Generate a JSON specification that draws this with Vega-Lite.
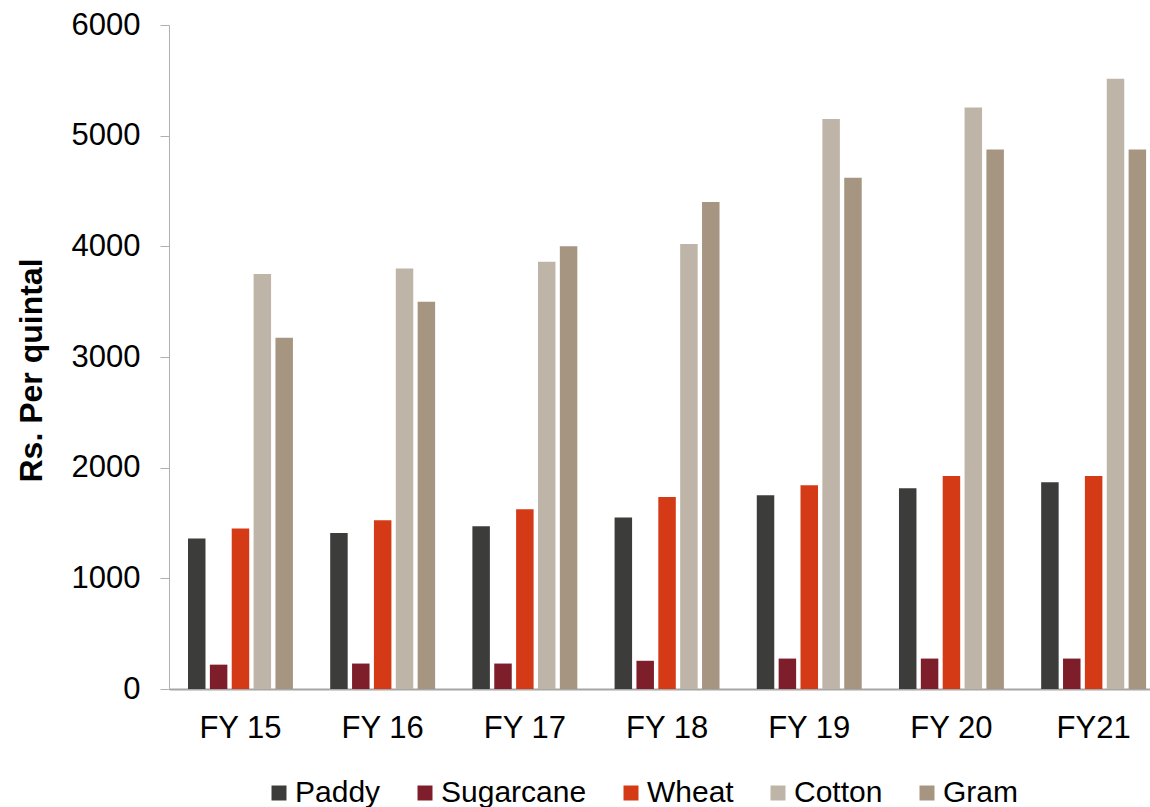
{
  "$schema": "https://vega.github.io/schema/vega-lite/v6.json",
  "autosize": {"type": "none"},
  "padding": {"left": 169, "top": 25, "right": 0, "bottom": 118},
  "width": 981,
  "height": 664,
  "background": "white",
  "config": {
    "view": {"stroke": null},
    "font": "Liberation Sans",
    "axis": {"grid": false, "labelFont": "Liberation Sans", "titleFont": "Liberation Sans", "labelColor": "#000000", "titleColor": "#000000"},
    "legend": {"labelFont": "Liberation Sans"}
  },
  "data": {
    "values": [
      {"year": "FY 15", "crop": "Paddy", "msp": 1360},
      {"year": "FY 15", "crop": "Sugarcane", "msp": 220},
      {"year": "FY 15", "crop": "Wheat", "msp": 1450},
      {"year": "FY 15", "crop": "Cotton", "msp": 3750},
      {"year": "FY 15", "crop": "Gram", "msp": 3175},
      {"year": "FY 16", "crop": "Paddy", "msp": 1410},
      {"year": "FY 16", "crop": "Sugarcane", "msp": 230},
      {"year": "FY 16", "crop": "Wheat", "msp": 1525},
      {"year": "FY 16", "crop": "Cotton", "msp": 3800},
      {"year": "FY 16", "crop": "Gram", "msp": 3500},
      {"year": "FY 17", "crop": "Paddy", "msp": 1470},
      {"year": "FY 17", "crop": "Sugarcane", "msp": 230},
      {"year": "FY 17", "crop": "Wheat", "msp": 1625},
      {"year": "FY 17", "crop": "Cotton", "msp": 3860},
      {"year": "FY 17", "crop": "Gram", "msp": 4000},
      {"year": "FY 18", "crop": "Paddy", "msp": 1550},
      {"year": "FY 18", "crop": "Sugarcane", "msp": 255},
      {"year": "FY 18", "crop": "Wheat", "msp": 1735},
      {"year": "FY 18", "crop": "Cotton", "msp": 4020},
      {"year": "FY 18", "crop": "Gram", "msp": 4400},
      {"year": "FY 19", "crop": "Paddy", "msp": 1750},
      {"year": "FY 19", "crop": "Sugarcane", "msp": 275},
      {"year": "FY 19", "crop": "Wheat", "msp": 1840},
      {"year": "FY 19", "crop": "Cotton", "msp": 5150},
      {"year": "FY 19", "crop": "Gram", "msp": 4620},
      {"year": "FY 20", "crop": "Paddy", "msp": 1815},
      {"year": "FY 20", "crop": "Sugarcane", "msp": 275},
      {"year": "FY 20", "crop": "Wheat", "msp": 1925},
      {"year": "FY 20", "crop": "Cotton", "msp": 5255},
      {"year": "FY 20", "crop": "Gram", "msp": 4875},
      {"year": "FY21", "crop": "Paddy", "msp": 1868},
      {"year": "FY21", "crop": "Sugarcane", "msp": 275},
      {"year": "FY21", "crop": "Wheat", "msp": 1925},
      {"year": "FY21", "crop": "Cotton", "msp": 5515},
      {"year": "FY21", "crop": "Gram", "msp": 4875}
    ]
  },
  "mark": {"type": "bar"},
  "encoding": {
    "x": {
      "field": "year",
      "type": "nominal",
      "sort": null,
      "scale": {"paddingInner": 0.262, "paddingOuter": 0.0805, "align": 0.83},
      "axis": {
        "title": null,
        "labelAngle": 0,
        "labelFontSize": 31,
        "labelPadding": 24,
        "ticks": false,
        "tickSize": 0,
        "domainColor": "#a6a6a6",
        "domainWidth": 2
      }
    },
    "xOffset": {
      "field": "crop",
      "type": "nominal",
      "sort": ["Paddy", "Sugarcane", "Wheat", "Cotton", "Gram"],
      "scale": {"paddingInner": 0.2, "paddingOuter": 0}
    },
    "y": {
      "field": "msp",
      "type": "quantitative",
      "scale": {"domain": [0, 6000], "nice": false},
      "axis": {
        "title": "Rs. Per quintal",
        "titleFontSize": 32,
        "titleFontWeight": "bold",
        "titlePadding": 23,
        "titleY": 345,
        "values": [0, 1000, 2000, 3000, 4000, 5000, 6000],
        "format": "d",
        "labelFontSize": 31,
        "labelPadding": 20,
        "tickSize": 9,
        "tickColor": "#b0b0b0",
        "domainColor": "#b0b0b0",
        "domainWidth": 1
      }
    },
    "color": {
      "field": "crop",
      "type": "nominal",
      "scale": {
        "domain": ["Paddy", "Sugarcane", "Wheat", "Cotton", "Gram"],
        "range": ["#3c3c3a", "#7e1e2b", "#d53a17", "#beb5a8", "#a69580"]
      },
      "legend": {
        "title": null,
        "orient": "none",
        "legendX": 95,
        "legendY": 753,
        "direction": "horizontal",
        "columns": 5,
        "symbolType": "square",
        "symbolSize": 225,
        "symbolStrokeWidth": 0,
        "labelFontSize": 30,
        "labelColor": "#000000",
        "labelOffset": 1,
        "columnPadding": 29
      }
    }
  }
}
